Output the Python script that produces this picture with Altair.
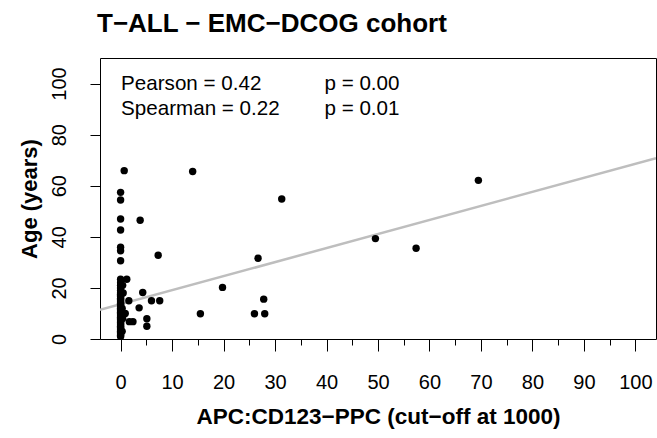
import altair as alt
import pandas as pd

# ---------------- data ----------------
# points stacked at APC:CD123-PPC = 0 (ages in years)
zero_ages = [1, 1.5, 2, 2.5, 3, 3.5, 4, 4.5, 5, 5.5, 6, 6.5, 7, 7.5, 8, 8.5,
             9, 9.5, 10, 10.5, 11, 11.5, 12, 12.5, 13, 13.5, 14, 14.5, 15,
             15.5, 16, 16.5, 17, 17.5, 18, 19, 20, 21, 22, 23.4, 30.6, 34.5,
             35.9, 42.7, 47.0, 54.4, 57.4]

# remaining points (APC:CD123-PPC value, age)
other_apc = [0.3, 0.4, 0.3, 0.5, 0.4, 0.7, 14.0, 31.3, 3.8, 7.3, 26.7, 19.8,
             27.8, 26.0, 28.0, 15.5, 6.0, 7.6, 4.3, 3.6, 5.1, 5.1, 1.2, 1.6,
             0.9, 1.7, 2.4, 49.5, 57.4, 69.5]
other_age = [3, 8, 12, 18, 21, 65.9, 65.6, 54.8, 46.5, 32.8, 31.6, 20.2,
             15.6, 9.9, 9.9, 9.9, 15.0, 15.0, 18.2, 12.2, 7.9, 5.0, 23.4, 15.0,
             10.0, 6.8, 6.8, 39.3, 35.5, 62.1]

# fitted regression line (abline)
intercept = 13.6
slope = 0.55

x_domain = [-4, 104]
y_domain = [0, 110]
x_major = [0, 10, 20, 30, 40, 50, 60, 70, 80, 90, 100]
x_minor = [0, 5, 10, 15, 20, 25, 30, 35, 40, 45, 50, 55, 60, 65, 70, 75, 80,
           85, 90, 95, 100]
y_ticks = [0, 5, 10, 15, 20, 25, 30, 35, 40, 45, 50, 55, 60, 65, 70, 75, 80,
           85, 90, 95, 100]

stat_texts = ["Pearson = 0.42", "Spearman = 0.22", "p = 0.00", "p = 0.01"]
stat_x = [0.1, 0.1, 39.6, 39.6]
stat_y = [97.3, 87.5, 97.3, 87.5]

TITLE = "T\u2212ALL \u2212 EMC\u2212DCOG cohort"
XTITLE = "APC:CD123\u2212PPC (cut\u2212off at 1000)"
YTITLE = "Age (years)"
FONT = "Liberation Sans"

# ---------------- tables ----------------
pts = pd.DataFrame({
    "apc": [0.0] * len(zero_ages) + other_apc,
    "age": zero_ages + other_age,
})
line_df = pd.DataFrame({
    "apc": x_domain,
    "age": [intercept + slope * v for v in x_domain],
})
txt_df = pd.DataFrame({"apc": stat_x, "age": stat_y, "label": stat_texts})

xs = alt.Scale(domain=x_domain, nice=False, zero=False)
ys = alt.Scale(domain=y_domain, nice=False, zero=False)

x_axis = alt.Axis(
    orient="bottom", values=x_major, tickSize=12, tickColor="black",
    tickWidth=1, domain=False, grid=False, labelFont=FONT, labelFontSize=20,
    labelColor="black", labelBaseline="alphabetic", labelPadding=37,
    labelOverlap=False, labelFlush=False, title=XTITLE, titleFont=FONT,
    titleFontSize=22.5, titleFontWeight="bold", titleColor="black",
    titleX=278, titleY=84, titleAlign="center", titleBaseline="alphabetic",
)
y_axis = alt.Axis(
    orient="left", values=y_ticks, tickSize=10, tickColor="black",
    tickWidth=1, domain=False, grid=False, labelFont=FONT, labelFontSize=20,
    labelColor="black", labelAngle=-90, labelAlign="center",
    labelBaseline="alphabetic", labelPadding=25, labelOverlap=False,
    labelFlush=False,
    labelExpr="datum.value % 20 === 0 ? datum.label : ''",
    title=YTITLE, titleFont=FONT, titleFontSize=22, titleFontWeight="bold",
    titleColor="black", titleAngle=270, titleX=-64, titleY=140.5,
    titleAlign="center", titleBaseline="alphabetic",
)
x_minor_axis = alt.Axis(
    orient="bottom", values=x_minor, tickSize=6, tickColor="black",
    tickWidth=1, domain=False, grid=False, labels=False, title="",
)

reg = alt.Chart(line_df).mark_line(
    color="#BEBEBE", strokeWidth=2.5, clip=True
).encode(
    x=alt.X("apc:Q", scale=xs, axis=x_axis),
    y=alt.Y("age:Q", scale=ys, axis=y_axis),
)

points = alt.Chart(pts).mark_circle(
    color="black", opacity=1, size=55, clip=True
).encode(
    x=alt.X("apc:Q", scale=xs, axis=None),
    y=alt.Y("age:Q", scale=ys),
)

texts = alt.Chart(txt_df).mark_text(
    align="left", baseline="alphabetic", font=FONT, fontSize=20.6,
    color="black"
).encode(
    x=alt.X("apc:Q", scale=xs, axis=None),
    y=alt.Y("age:Q", scale=ys),
    text="label:N",
)

minor = alt.Chart(pts).mark_point(opacity=0).encode(
    x=alt.X("apc:Q", scale=xs, axis=x_minor_axis),
    y=alt.value(0),
)

chart = alt.layer(reg, points, texts, minor).resolve_axis(
    x="independent"
).properties(
    width=556,
    height=281,
    autosize=alt.AutoSizeParams(type="none"),
    padding={"left": 100, "top": 58, "right": 1, "bottom": 99},
    background="white",
    title=alt.TitleParams(
        TITLE, anchor="start", font=FONT, fontSize=26, fontWeight="bold",
        color="black", baseline="alphabetic", offset=26, dx=79, dy=29,
    ),
).configure_view(
    stroke="black", strokeWidth=1
)

chart.save("out.html", embed_options={"renderer": "svg", "actions": False})
